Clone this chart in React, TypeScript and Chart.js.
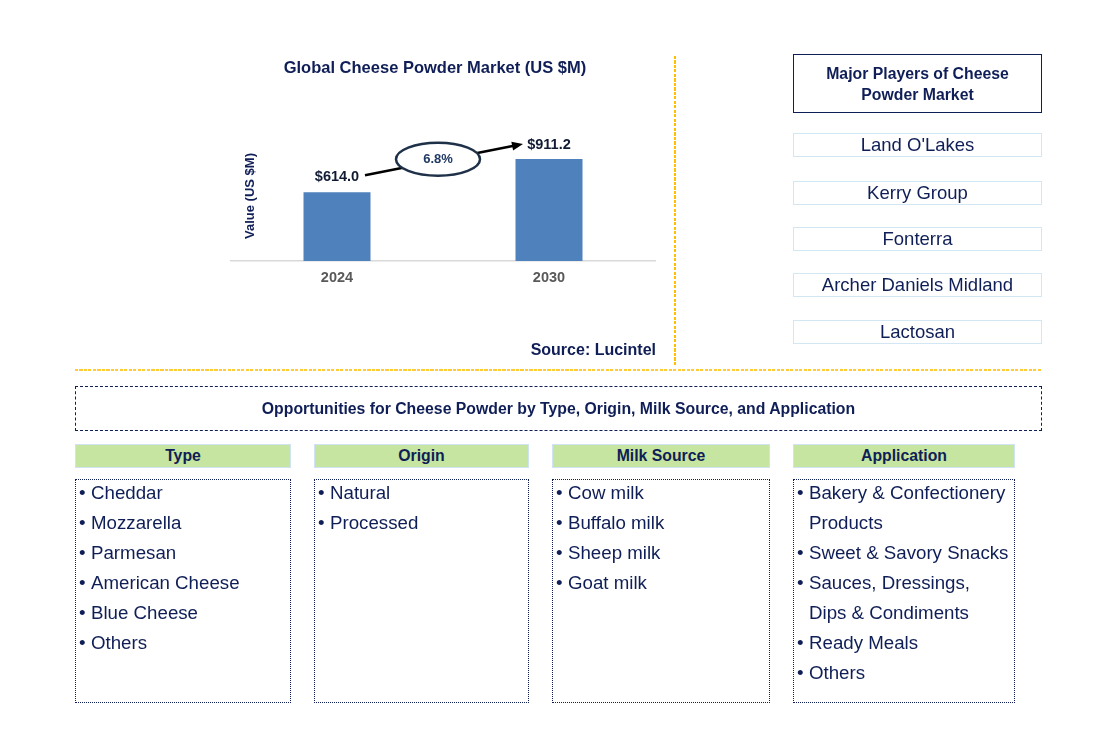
import React, { useEffect, useRef } from "react";
import { Chart, registerables } from "chart.js";

Chart.register(...registerables);

const years = ["2024", "2030"];
const marketValues = [614.0, 911.2];
const valueLabels = ["$614.0", "$911.2"];
const cagrLabel = "6.8%";
const chartTitle = "Global Cheese Powder Market (US $M)";
const yAxisTitle = "Value (US $M)";
const sourceText = "Source: Lucintel";
const playersTitle = ["Major Players of Cheese", "Powder Market"];
const players = ["Land O'Lakes", "Kerry Group", "Fonterra", "Archer Daniels Midland", "Lactosan"];
const opportunitiesTitle = "Opportunities for Cheese Powder by Type, Origin, Milk Source, and Application";
const segmentNames = ["Type", "Origin", "Milk Source", "Application"];
const typeItems = ["Cheddar", "Mozzarella", "Parmesan", "American Cheese", "Blue Cheese", "Others"];
const originItems = ["Natural", "Processed"];
const milkItems = ["Cow milk", "Buffalo milk", "Sheep milk", "Goat milk"];
const applicationItems = [
  "Bakery & Confectionery\nProducts",
  "Sweet & Savory Snacks",
  "Sauces, Dressings,\nDips & Condiments",
  "Ready Meals",
  "Others",
];

const NAVY = "#0f1e56";
const FONT = "'Liberation Sans', Arial, sans-serif";

const annotationPlugin = {
  id: "annot",
  afterDatasetsDraw(chart: any) {
    const ctx = chart.ctx;
    const meta = chart.getDatasetMeta(0);
    const b0 = meta.data[0];
    const b1 = meta.data[1];
    ctx.save();
    ctx.font = `bold 14.5px ${FONT}`;
    ctx.fillStyle = "#111a33";
    ctx.textAlign = "center";
    ctx.textBaseline = "middle";
    ctx.fillText(valueLabels[0], b0.x, b0.y - 15);
    ctx.fillText(valueLabels[1], b1.x, b1.y - 14);
    const sx = b0.x + 28, sy = b0.y - 17;
    const ex = b1.x - 26, ey = b1.y - 15;
    const ang = Math.atan2(ey - sy, ex - sx);
    ctx.strokeStyle = "#000";
    ctx.lineWidth = 2.5;
    ctx.beginPath();
    ctx.moveTo(sx, sy);
    ctx.lineTo(ex - 8 * Math.cos(ang), ey - 8 * Math.sin(ang));
    ctx.stroke();
    ctx.fillStyle = "#000";
    ctx.beginPath();
    ctx.moveTo(ex, ey);
    ctx.lineTo(ex - 11 * Math.cos(ang) + 4.5 * Math.sin(ang), ey - 11 * Math.sin(ang) - 4.5 * Math.cos(ang));
    ctx.lineTo(ex - 11 * Math.cos(ang) - 4.5 * Math.sin(ang), ey - 11 * Math.sin(ang) + 4.5 * Math.cos(ang));
    ctx.closePath();
    ctx.fill();
    const cx = (sx + ex) / 2 - 6;
    const cy = sy + (ey - sy) * ((cx - sx) / (ex - sx)) - 1.5;
    ctx.beginPath();
    ctx.ellipse(cx, cy, 42, 16.5, 0, 0, Math.PI * 2);
    ctx.fillStyle = "#fff";
    ctx.fill();
    ctx.strokeStyle = "#1f3148";
    ctx.lineWidth = 2.5;
    ctx.stroke();
    ctx.fillStyle = "#1f3864";
    ctx.font = `bold 13px ${FONT}`;
    ctx.fillText(cagrLabel, cx, cy + 0.5);
    ctx.translate(30, 96);
    ctx.rotate(-Math.PI / 2);
    ctx.font = `bold 13px ${FONT}`;
    ctx.fillStyle = NAVY;
    ctx.fillText(yAxisTitle, 0, 0);
    ctx.restore();
  },
};

function BarChart() {
  const ref = useRef<HTMLCanvasElement>(null);
  useEffect(() => {
    if (!ref.current) return;
    const chart = new Chart(ref.current, {
      type: "bar",
      data: {
        labels: years,
        datasets: [
          {
            data: marketValues,
            backgroundColor: "#4f81bd",
            categoryPercentage: 1,
            barPercentage: 0.316,
          },
        ],
      },
      options: {
        animation: false,
        responsive: false,
        maintainAspectRatio: false,
        layout: { padding: { top: 49, left: 11, right: 15, bottom: 0 } },
        plugins: { legend: { display: false }, tooltip: { enabled: false }, title: { display: false } },
        scales: {
          x: {
            grid: { display: false, drawTicks: true, tickLength: 8 },
            border: { display: true, color: "#d9d9d9", width: 1.5 },
            ticks: { color: "#595959", font: { family: FONT, size: 14.5, weight: "bold" }, padding: 0 },
            afterFit: (s: any) => {
              s.height = 39;
            },
          },
          y: { display: false, min: 0, max: 1000 },
        },
      },
      plugins: [annotationPlugin],
    });
    return () => chart.destroy();
  }, []);
  return (
    <canvas
      ref={ref}
      width={450}
      height={200}
      style={{ position: "absolute", left: 220, top: 100, width: 450, height: 200 }}
    />
  );
}

const abs = (l: number, t: number, w: number, h: number): React.CSSProperties => ({
  position: "fixed",
  left: l,
  top: t,
  width: w,
  height: h,
  boxSizing: "border-box",
});

const center: React.CSSProperties = {
  display: "flex",
  alignItems: "center",
  justifyContent: "center",
  textAlign: "center",
};

const playerTops = [133, 181, 227, 273, 320];
const colLefts = [75, 314, 552, 793];
const colWidths = [216, 215, 218, 222];
const lists = [typeItems, originItems, milkItems, applicationItems];

export default function App() {
  return (
    <div style={{ position: "relative", width: 1106, height: 743, fontFamily: FONT, color: NAVY }}>
      <div style={{ position: "fixed", left: 0, top: 0, width: 1106, height: 743, background: "#fff" }} />
      <div style={{ ...abs(220, 56, 430, 22), ...center, fontWeight: "bold", fontSize: 16.5 }}>{chartTitle}</div>
      <div style={{ position: "fixed", left: 0, top: 0 }}>
        <BarChart />
      </div>
      <div
        style={{
          position: "fixed",
          right: 1106 - 656,
          top: 340,
          fontWeight: "bold",
          fontSize: 16,
          lineHeight: "20px",
          whiteSpace: "nowrap",
        }}
      >
        {sourceText}
      </div>
      <div
        style={{
          ...abs(674, 56, 2, 309),
          background: "repeating-linear-gradient(to bottom, #ffc000 0px, #ffc000 3px, transparent 3px, transparent 4.5px)",
        }}
      />
      <div
        style={{
          ...abs(75, 369, 966, 2),
          background: "repeating-linear-gradient(to right, #ffc000 0px, #ffc000 3px, transparent 3px, transparent 4.5px)",
          opacity: 0.8,
        }}
      />
      <div
        style={{
          ...abs(793, 54, 249, 59),
          ...center,
          border: `1.5px solid ${NAVY}`,
          fontWeight: "bold",
          fontSize: 15.8,
          lineHeight: "21px",
          flexDirection: "column",
        }}
      >
        {playersTitle.map((t) => (
          <div key={t}>{t}</div>
        ))}
      </div>
      {players.map((p, i) => (
        <div
          key={p}
          style={{
            ...abs(793, playerTops[i], 249, 24),
            ...center,
            border: "1.5px solid #d2e6f4",
            fontSize: 18.5,
            whiteSpace: "nowrap",
          }}
        >
          {p}
        </div>
      ))}
      <div
        style={{
          ...abs(75, 386, 967, 45),
          ...center,
          border: `1px dashed ${NAVY}`,
          fontWeight: "bold",
          fontSize: 15.8,
        }}
      >
        {opportunitiesTitle}
      </div>
      {segmentNames.map((s, i) => (
        <div
          key={s}
          style={{
            ...abs(colLefts[i], 444, colWidths[i], 24),
            ...center,
            background: "#c6e5a0",
            border: "1.5px solid #cfe3f5",
            fontWeight: "bold",
            fontSize: 15.8,
          }}
        >
          {s}
        </div>
      ))}
      {lists.map((items, i) => (
        <div
          key={i}
          style={{
            ...abs(colLefts[i], 479, colWidths[i], 224),
            border: `1px dotted ${NAVY}`,
            fontSize: 18.7,
            lineHeight: "30px",
            paddingLeft: 3,
          }}
        >
          <div style={{ marginTop: -2 }}>
            {items.map((it) => (
              <div key={it} style={{ display: "flex", whiteSpace: "pre-line" }}>
                <span style={{ width: 12, flex: "none" }}>•</span>
                <span>{it}</span>
              </div>
            ))}
          </div>
        </div>
      ))}
    </div>
  );
}
